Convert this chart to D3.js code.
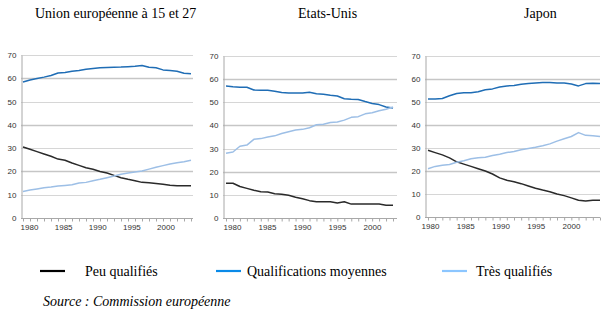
<!DOCTYPE html>
<html>
<head>
<meta charset="utf-8">
<script src="https://cdn.jsdelivr.net/npm/d3@7"></script>
<style>
  html, body { margin: 0; padding: 0; background: #ffffff; }
  svg { display: block; }
</style>
</head>
<body>
<svg id="chart" width="616" height="322"></svg>
<script>
// ---------- data ----------
const years = d3.range(1980, 2005);
const tickYears = [1980, 1985, 1990, 1995, 2000];
const yTicks = [0, 10, 20, 30, 40, 50, 60, 70];
const panelTitles = ["Union européenne à 15 et 27", "Etats-Unis", "Japon"];
const seriesNames = ["Peu qualifiés", "Qualifications moyennes", "Très qualifiés"];
const sourceText = "Source : Commission européenne";

const euLow  = [30.5, 29.5, 28.5, 27.5, 26.5, 25.3, 24.8, 23.6, 22.6, 21.6, 20.9, 20.0, 19.3, 18.3, 17.3, 16.6, 16.0, 15.3, 15.1, 14.8, 14.5, 14.1, 13.9, 13.9, 13.9];
const euMid  = [58.4, 59.3, 59.9, 60.5, 61.2, 62.3, 62.5, 63.0, 63.3, 63.9, 64.2, 64.5, 64.6, 64.7, 64.8, 65.0, 65.2, 65.5, 64.7, 64.5, 63.6, 63.3, 63.0, 62.2, 62.0];
const euHigh = [11.4, 12.0, 12.5, 13.0, 13.3, 13.7, 14.0, 14.3, 15.0, 15.3, 16.0, 16.6, 17.3, 18.0, 18.8, 19.3, 19.8, 20.2, 21.0, 21.8, 22.5, 23.2, 23.7, 24.2, 24.8];

const usLow  = [15.0, 15.0, 13.6, 12.8, 12.0, 11.3, 11.2, 10.5, 10.3, 9.8, 9.0, 8.3, 7.5, 7.0, 7.0, 7.0, 6.5, 7.0, 6.0, 6.0, 6.0, 6.0, 6.0, 5.5, 5.5];
const usMid  = [57.0, 56.7, 56.5, 56.5, 55.3, 55.2, 55.2, 54.8, 54.2, 54.0, 54.0, 54.0, 54.3, 53.7, 53.5, 53.0, 52.7, 51.5, 51.3, 51.2, 50.3, 49.5, 49.0, 48.0, 47.5];
const usHigh = [28.0, 28.5, 31.0, 31.5, 34.0, 34.3, 35.0, 35.5, 36.5, 37.3, 38.0, 38.3, 39.0, 40.3, 40.5, 41.3, 41.5, 42.3, 43.5, 43.8, 45.0, 45.5, 46.3, 47.0, 48.0];

const jpLow  = [29.0, 28.0, 27.0, 25.7, 24.0, 23.0, 22.0, 21.0, 20.0, 18.7, 17.0, 16.0, 15.3, 14.5, 13.5, 12.5, 11.7, 11.0, 10.0, 9.3, 8.3, 7.3, 7.0, 7.3, 7.3];
const jpMid  = [51.3, 51.3, 51.5, 52.7, 53.7, 54.0, 54.0, 54.5, 55.3, 55.7, 56.5, 57.0, 57.2, 57.7, 58.0, 58.3, 58.5, 58.5, 58.3, 58.3, 57.8, 57.0, 58.0, 58.2, 58.0];
const jpHigh = [21.0, 22.0, 22.5, 22.8, 23.8, 24.5, 25.3, 25.8, 26.0, 26.7, 27.3, 28.0, 28.5, 29.2, 29.8, 30.3, 31.0, 31.8, 33.0, 34.0, 35.0, 36.7, 35.5, 35.3, 35.0];

const panelData = [
  [euLow, euMid, euHigh],
  [usLow, usMid, usHigh],
  [jpLow, jpMid, jpHigh]
];

// ---------- styles / layout ----------
const lineColors   = ["#2a2a2a", "#1f6db5", "#9dbfe6"];
const legendColors = ["#000000", "#0a8ae8", "#8cc6ff"];
const serif = "'Liberation Serif', 'Times New Roman', serif";
const sans  = "'Liberation Sans', Arial, sans-serif";

const layout = [
  { axisX: 21,  right: 193, dataL: 23,  dataR: 191, top: 55, bottom: 218, lblL: 29,  lblR: 165.5, titleX: 35 },
  { axisX: 223, right: 397, dataL: 226, dataR: 393, top: 56, bottom: 218, lblL: 232, lblR: 372,   titleX: 298 },
  { axisX: 425, right: 600, dataL: 428, dataR: 600, top: 56, bottom: 217, lblL: 430, lblR: 571,   titleX: 524 }
];

const svg = d3.select("#chart");

layout.forEach((L, pi) => {
  const g = svg.append("g");
  const x = d3.scaleLinear().domain([1980, 2004]).range([L.dataL, L.dataR]);
  const xl = d3.scaleLinear().domain([1980, 2000]).range([L.lblL, L.lblR]);
  const y = d3.scaleLinear().domain([0, 70]).range([L.bottom, L.top]);

  // gridlines
  g.selectAll("line.grid").data(yTicks.filter(t => t > 0)).enter().append("line")
    .attr("x1", L.axisX).attr("x2", L.right)
    .attr("y1", d => Math.round(y(d)) + 0.5).attr("y2", d => Math.round(y(d)) + 0.5)
    .attr("stroke", d => (d % 20 === 0) ? "#c6c6c6" : "#d6d6d6")
    .attr("stroke-width", d => (d % 20 === 0) ? 1.5 : 1);

  // y axis
  const yAxis = d3.axisLeft(y).tickValues(yTicks).tickSize(0).tickPadding(5);
  const ya = g.append("g").attr("transform", `translate(${L.axisX + 0.5},0)`).call(yAxis);
  ya.select(".domain").attr("stroke", "#a8a8a8");
  ya.selectAll("text").attr("font-family", sans).attr("font-size", 8).attr("fill", "#333");

  // x axis: baseline with yearly ticks
  const xAxis = d3.axisBottom(x).tickValues(years).tickSize(3).tickFormat("");
  const xa = g.append("g").attr("transform", `translate(0,${Math.round(L.bottom) + 0.5})`).call(xAxis);
  xa.select(".domain").attr("stroke", "#a8a8a8").attr("d", `M${L.axisX},0H${L.right}`);
  xa.selectAll(".tick line").attr("stroke", "#a8a8a8");

  // x labels
  const xLab = d3.axisBottom(xl).tickValues(tickYears).tickSize(0).tickPadding(0).tickFormat(d3.format("d"));
  const xla = g.append("g").attr("transform", `translate(0,${L.bottom + 6})`).call(xLab);
  xla.select(".domain").remove();
  xla.selectAll("text").attr("font-family", sans).attr("font-size", 8).attr("fill", "#333");

  // lines
  const line = d3.line().x((d, i) => x(years[i])).y(d => y(d));
  panelData[pi].forEach((vals, si) => {
    g.append("path").datum(vals)
      .attr("d", line)
      .attr("fill", "none")
      .attr("stroke", lineColors[si])
      .attr("stroke-width", 1.5)
      .attr("stroke-linejoin", "round");
  });

  // title
  svg.append("text")
    .attr("x", L.titleX).attr("y", 18)
    .attr("font-family", serif).attr("font-size", 14).attr("fill", "#000")
    .text(panelTitles[pi]);
});

// legend
const legendPos = [
  { lx1: 40, lx2: 65, tx: 85 },
  { lx1: 216, lx2: 241, tx: 247 },
  { lx1: 442, lx2: 467, tx: 476 }
];
const lg = svg.append("g");
seriesNames.forEach((name, i) => {
  const P = legendPos[i];
  lg.append("line").attr("x1", P.lx1).attr("x2", P.lx2).attr("y1", 271).attr("y2", 271)
    .attr("stroke", legendColors[i]).attr("stroke-width", 2.2);
  lg.append("text").attr("x", P.tx).attr("y", 275.5)
    .attr("font-family", serif).attr("font-size", 14).attr("fill", "#000")
    .text(name);
});

svg.append("text").attr("x", 43).attr("y", 306)
  .attr("font-family", serif).attr("font-size", 14).attr("font-style", "italic").attr("fill", "#000")
  .text(sourceText);
</script>
</body>
</html>
